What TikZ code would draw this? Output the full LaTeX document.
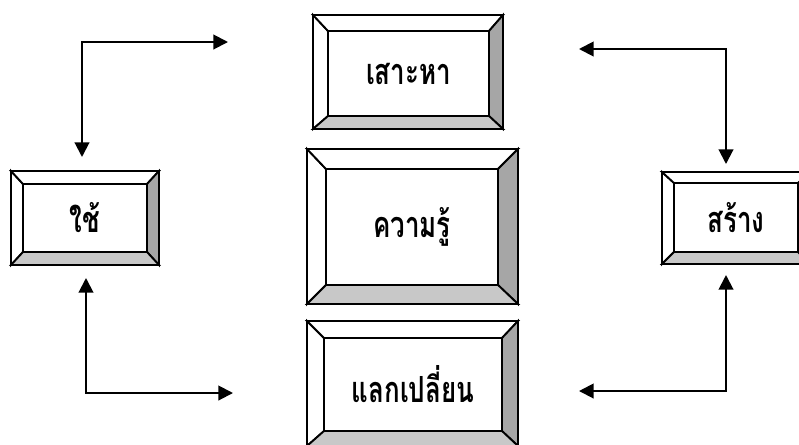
\documentclass[tikz,border=0pt]{standalone}
\usepackage{fontspec}
\newfontfamily\thaifont[Script=Thai,FakeStretch=0.72]{Loma}
\usetikzlibrary{arrows.meta,calc}
\definecolor{bevdark}{HTML}{A6A6A6}
\definecolor{bevlight}{HTML}{C8C8C8}
\newcommand\bevelbox[9]{%
  \coordinate (#1-o1) at (#2,#3);
  \coordinate (#1-o2) at (#4,#5);
  \coordinate (#1-i1) at (#6,#7);
  \coordinate (#1-i2) at (#8,#9);
  \filldraw[bevline,fill=white] (#2,#3) -- (#6,#7) -- (#6,#9) -- (#2,#5) -- cycle;
  \filldraw[bevline,fill=white] (#2,#3) -- (#4,#3) -- (#8,#7) -- (#6,#7) -- cycle;
  \filldraw[bevline,fill=bevdark] (#4,#3) -- (#4,#5) -- (#8,#9) -- (#8,#7) -- cycle;
  \filldraw[bevline,fill=bevlight] (#2,#5) -- (#4,#5) -- (#8,#9) -- (#6,#9) -- cycle;
  \draw[bevline] (#6,#7) rectangle (#8,#9);
  \draw[bevline] (#2,#3) rectangle (#4,#5);
}
\begin{document}
\begin{tikzpicture}[x=0.75pt,y=-0.75pt,
  bevline/.style={draw=black,line width=1.4pt,line join=miter},
  boxtext/.style={font=\thaifont\bfseries\fontsize{27pt}{32pt}\selectfont,inner sep=0pt},
  arr/.style={line width=1.5pt,{Triangle[length=11pt,width=11pt]}-{Triangle[length=11pt,width=11pt]}}]
\useasboundingbox (0,0) rectangle (799,444);
\fill[white] (0,0) rectangle (799,444);

\bevelbox{top}{313}{15}{503}{129}{328}{31}{489}{116}
\bevelbox{mid}{307}{149}{518}{304}{326}{169}{498}{285}
\bevelbox{bot}{307}{321}{518}{446}{324}{338}{502}{431}
\bevelbox{lft}{11}{171}{159}{265}{23}{184}{147}{252}
\bevelbox{rgt}{662}{172}{810}{264}{674}{183}{798}{252}

\node[boxtext] (seek) at ($(top-i1)!0.5!(top-i2)$) {เสาะหา};
\node[boxtext] (know) at ($(mid-i1)!0.5!(mid-i2)$) {ความรู้};
\node[boxtext] (share) at ($(bot-i1)!0.5!(bot-i2)$) {แลกเปลี่ยน};
\node[boxtext] (use) at ($(lft-i1)!0.5!(lft-i2)$) {ใช้};
\node[boxtext] (create) at ($(rgt-i1)!0.5!(rgt-i2)$) {สร้าง};

\coordinate (tlA) at (228,42);
\coordinate (tlB) at (82,157);
\coordinate (trA) at (579,49);
\coordinate (trB) at (726,164);
\coordinate (blA) at (233,393);
\coordinate (blB) at (86,278);
\coordinate (brA) at (579,391);
\coordinate (brB) at (726,275);

\draw[arr] (tlA) -| (tlB);
\draw[arr] (trA) -| (trB);
\draw[arr] (blA) -| (blB);
\draw[arr] (brA) -| (brB);
\end{tikzpicture}
\end{document}
